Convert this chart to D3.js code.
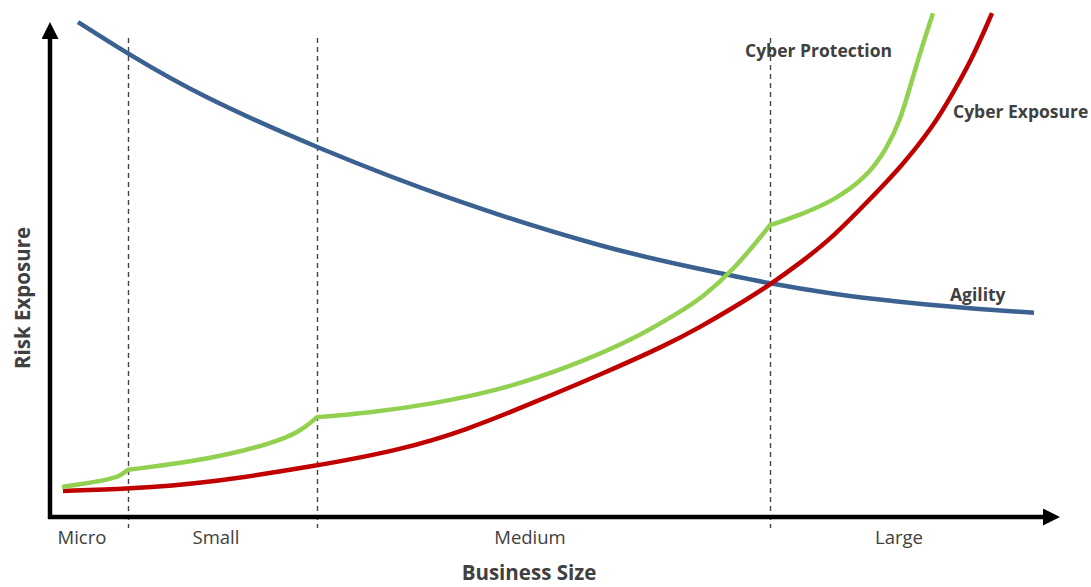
<!DOCTYPE html>
<html>
<head>
<meta charset="utf-8">
<script src="https://cdn.jsdelivr.net/npm/d3@7"></script>
<style>
  html, body { margin: 0; padding: 0; background: #fff; }
  svg { display: block; }
  text { font-family: "Open Sans", Lato, sans-serif; fill: #404040; }
</style>
</head>
<body>
<svg id="chart" width="1091" height="587"></svg>
<script>
// Business size runs 0..101 along x, risk exposure 0..100 up y (relative units).
const sizeBoundaries = [7.8, 26.7, 72.0];
const sizeLabels = ["Micro", "Small", "Medium", "Large"];
const sizeLabelPositions = [3.2, 16.6, 48.0, 84.9];

// Agility falls as the business grows.
const agility = [
  [2.8, 100.6], [7.8, 94.1], [15.0, 85.6], [26.7, 75.0], [40.0, 64.4], [56.0, 54.3],
  [65.0, 50.4], [72.0, 47.4], [78.3, 45.3], [85.0, 43.7], [90.0, 42.7], [98.4, 41.5]
];

// Cyber exposure rises steeply with size.
const cyberExposure = [
  [1.3, 5.3], [7.8, 5.7], [15.7, 6.9], [26.7, 10.4], [35.0, 13.6], [41.7, 17.7],
  [48.3, 23.2], [55.0, 28.9], [61.7, 35.0], [65.0, 38.6], [68.3, 42.5], [72.0, 47.2],
  [75.0, 51.6], [78.3, 56.9], [81.7, 64.0], [85.0, 70.9], [88.3, 79.3], [90.3, 86.2],
  [92.3, 93.5], [94.2, 102.4]
];

// Cyber protection steps up at each size boundary, one piece per size band.
const protectionMicro = [[1.2, 6.1], [5.7, 7.5], [7.0, 8.3], [7.8, 9.6]];
const protectionSmall = [[7.8, 9.6], [15.7, 11.6], [22.3, 15.0], [25.0, 17.3], [26.7, 20.3]];
const protectionMedium = [
  [26.7, 20.3], [31.7, 21.1], [38.3, 23.0], [45.0, 25.8], [51.7, 30.3],
  [58.3, 36.0], [63.3, 42.1], [65.0, 44.3], [68.3, 50.0], [72.0, 59.3]
];
const protectionLarge = [
  [72.0, 59.3], [75.0, 61.4], [78.3, 64.2], [81.7, 69.1], [83.7, 75.0],
  [85.0, 80.5], [86.0, 87.4], [87.0, 94.3], [88.3, 102.4]
];

const svg = d3.select("#chart");

const x = d3.scaleLinear().domain([0, 101]).range([50, 1060]);
const y = d3.scaleLinear().domain([0, 100]).range([517, 25]);

const line = d3.line()
  .x(d => x(d[0]))
  .y(d => y(d[1]))
  .curve(d3.curveBasis);

// Arrowheads for the axes
const defs = svg.append("defs");
defs.append("marker")
  .attr("id", "arrow")
  .attr("viewBox", "0 0 10 10")
  .attr("refX", 0).attr("refY", 5)
  .attr("markerUnits", "userSpaceOnUse")
  .attr("markerWidth", 18).attr("markerHeight", 17)
  .attr("orient", "auto")
  .append("path")
  .attr("d", "M0,0 L10,5 L0,10 Z")
  .attr("fill", "#000");

// Size band boundaries
svg.append("g")
  .selectAll("line")
  .data(sizeBoundaries)
  .join("line")
  .attr("x1", d => Math.round(x(d)) + 0.5)
  .attr("x2", d => Math.round(x(d)) + 0.5)
  .attr("y1", 38)
  .attr("y2", 528)
  .attr("stroke", "#444")
  .attr("stroke-width", 1.4)
  .attr("stroke-dasharray", "5,4");

// Axes
svg.append("line")
  .attr("x1", x(0)).attr("y1", y(0) + 2)
  .attr("x2", x(0)).attr("y2", y(0) - 478)
  .attr("stroke", "#000").attr("stroke-width", 4.5)
  .attr("marker-end", "url(#arrow)");
svg.append("line")
  .attr("x1", x(0) - 2).attr("y1", y(0))
  .attr("x2", x(0) + 993).attr("y2", y(0))
  .attr("stroke", "#000").attr("stroke-width", 4.5)
  .attr("marker-end", "url(#arrow)");

// Curves
const curves = svg.append("g").attr("fill", "none").attr("stroke-width", 4.5)
  .attr("stroke-linecap", "butt").attr("stroke-linejoin", "round");

curves.append("path")
  .attr("d", line(agility))
  .attr("stroke", "#3B6191");

curves.append("path")
  .attr("d", line(cyberExposure))
  .attr("stroke", "#C00000");

const protectionBands = [protectionMicro, protectionSmall, protectionMedium, protectionLarge];
const protectionPath = protectionBands
  .map((seg, i) => {
    const p = line(seg);
    return i === 0 ? p : "L" + p.slice(1);
  })
  .join("");
curves.append("path")
  .attr("d", protectionPath)
  .attr("stroke", "#92D050");

// Curve labels
const curveLabels = [
  { text: "Cyber Protection", px: 745, py: 57 },
  { text: "Cyber Exposure", px: 953, py: 118 },
  { text: "Agility", px: 950, py: 301 }
];
svg.append("g")
  .selectAll("text")
  .data(curveLabels)
  .join("text")
  .attr("x", d => d.px)
  .attr("y", d => d.py)
  .attr("font-size", 17.5)
  .attr("font-weight", "bold")
  .text(d => d.text);

// Size band labels
svg.append("g")
  .selectAll("text")
  .data(sizeLabels)
  .join("text")
  .attr("x", (d, i) => x(sizeLabelPositions[i]))
  .attr("y", 544)
  .attr("text-anchor", "middle")
  .attr("font-size", 18.5)
  .text(d => d);

// Axis titles
svg.append("text")
  .attr("x", 529).attr("y", 580)
  .attr("text-anchor", "middle")
  .attr("font-size", 20.5)
  .attr("font-weight", "bold")
  .text("Business Size");

svg.append("text")
  .attr("transform", "translate(30,298) rotate(-90)")
  .attr("text-anchor", "middle")
  .attr("font-size", 20.5)
  .attr("font-weight", "bold")
  .text("Risk Exposure");
</script>
</body>
</html>
